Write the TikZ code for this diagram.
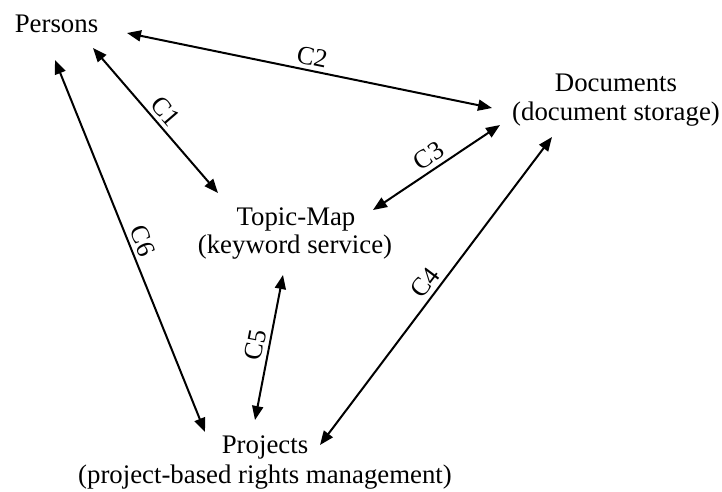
\documentclass[tikz,border=0pt]{standalone}
\usepackage{fontspec}
\setmainfont{Liberation Serif}
\usetikzlibrary{arrows.meta}
\tikzset{
  lbl/.style={anchor=base, inner sep=0pt, font=\fontsize{26.8}{29}\selectfont},
  conn/.style={line width=2pt, {Triangle[length=14pt,width=11pt]}-{Triangle[length=14pt,width=11pt]}},
  clab/.style={midway, sloped, above, inner sep=4pt, font=\fontsize{26}{29}\selectfont}
}
\begin{document}
\begin{tikzpicture}[x=1pt,y=-1pt]
\useasboundingbox (0,0) rectangle (722,491);
\node[lbl] (persons) at (56.5,32) {Persons};
\node[lbl] (doc) at (616,91) {Documents};
\node[lbl] (docsub) at (616,120) {(document storage)};
\node[lbl] (topic) at (296,225) {Topic-Map};
\node[lbl] (topicsub) at (295,253) {(keyword service)};
\node[lbl] (proj) at (265,453) {Projects};
\node[lbl] (projsub) at (265,483) {(project-based rights management)};

\draw[conn] ([shift={(70.5,1)}]persons.base) -- node[clab] {C2} ([shift={(-124,17)}]doc.base);
\draw[conn] ([shift={(36.5,16)}]persons.base) -- node[clab] {C1} ([shift={(-78,-32)}]topic.base);
\draw[conn] ([shift={(-1.5,28)}]persons.base) -- node[clab] {C6} ([shift={(-60,-21)}]proj.base);
\draw[conn] ([shift={(77,-15)}]topic.base) -- node[clab] {C3} ([shift={(-116,34)}]doc.base);
\draw[conn] ([shift={(-10,-33)}]proj.base) -- node[clab] {C5} ([shift={(-13,50)}]topic.base);
\draw[conn] ([shift={(55,-8)}]proj.base) -- node[clab] {C4} ([shift={(-64,46)}]doc.base);
\end{tikzpicture}
\end{document}
